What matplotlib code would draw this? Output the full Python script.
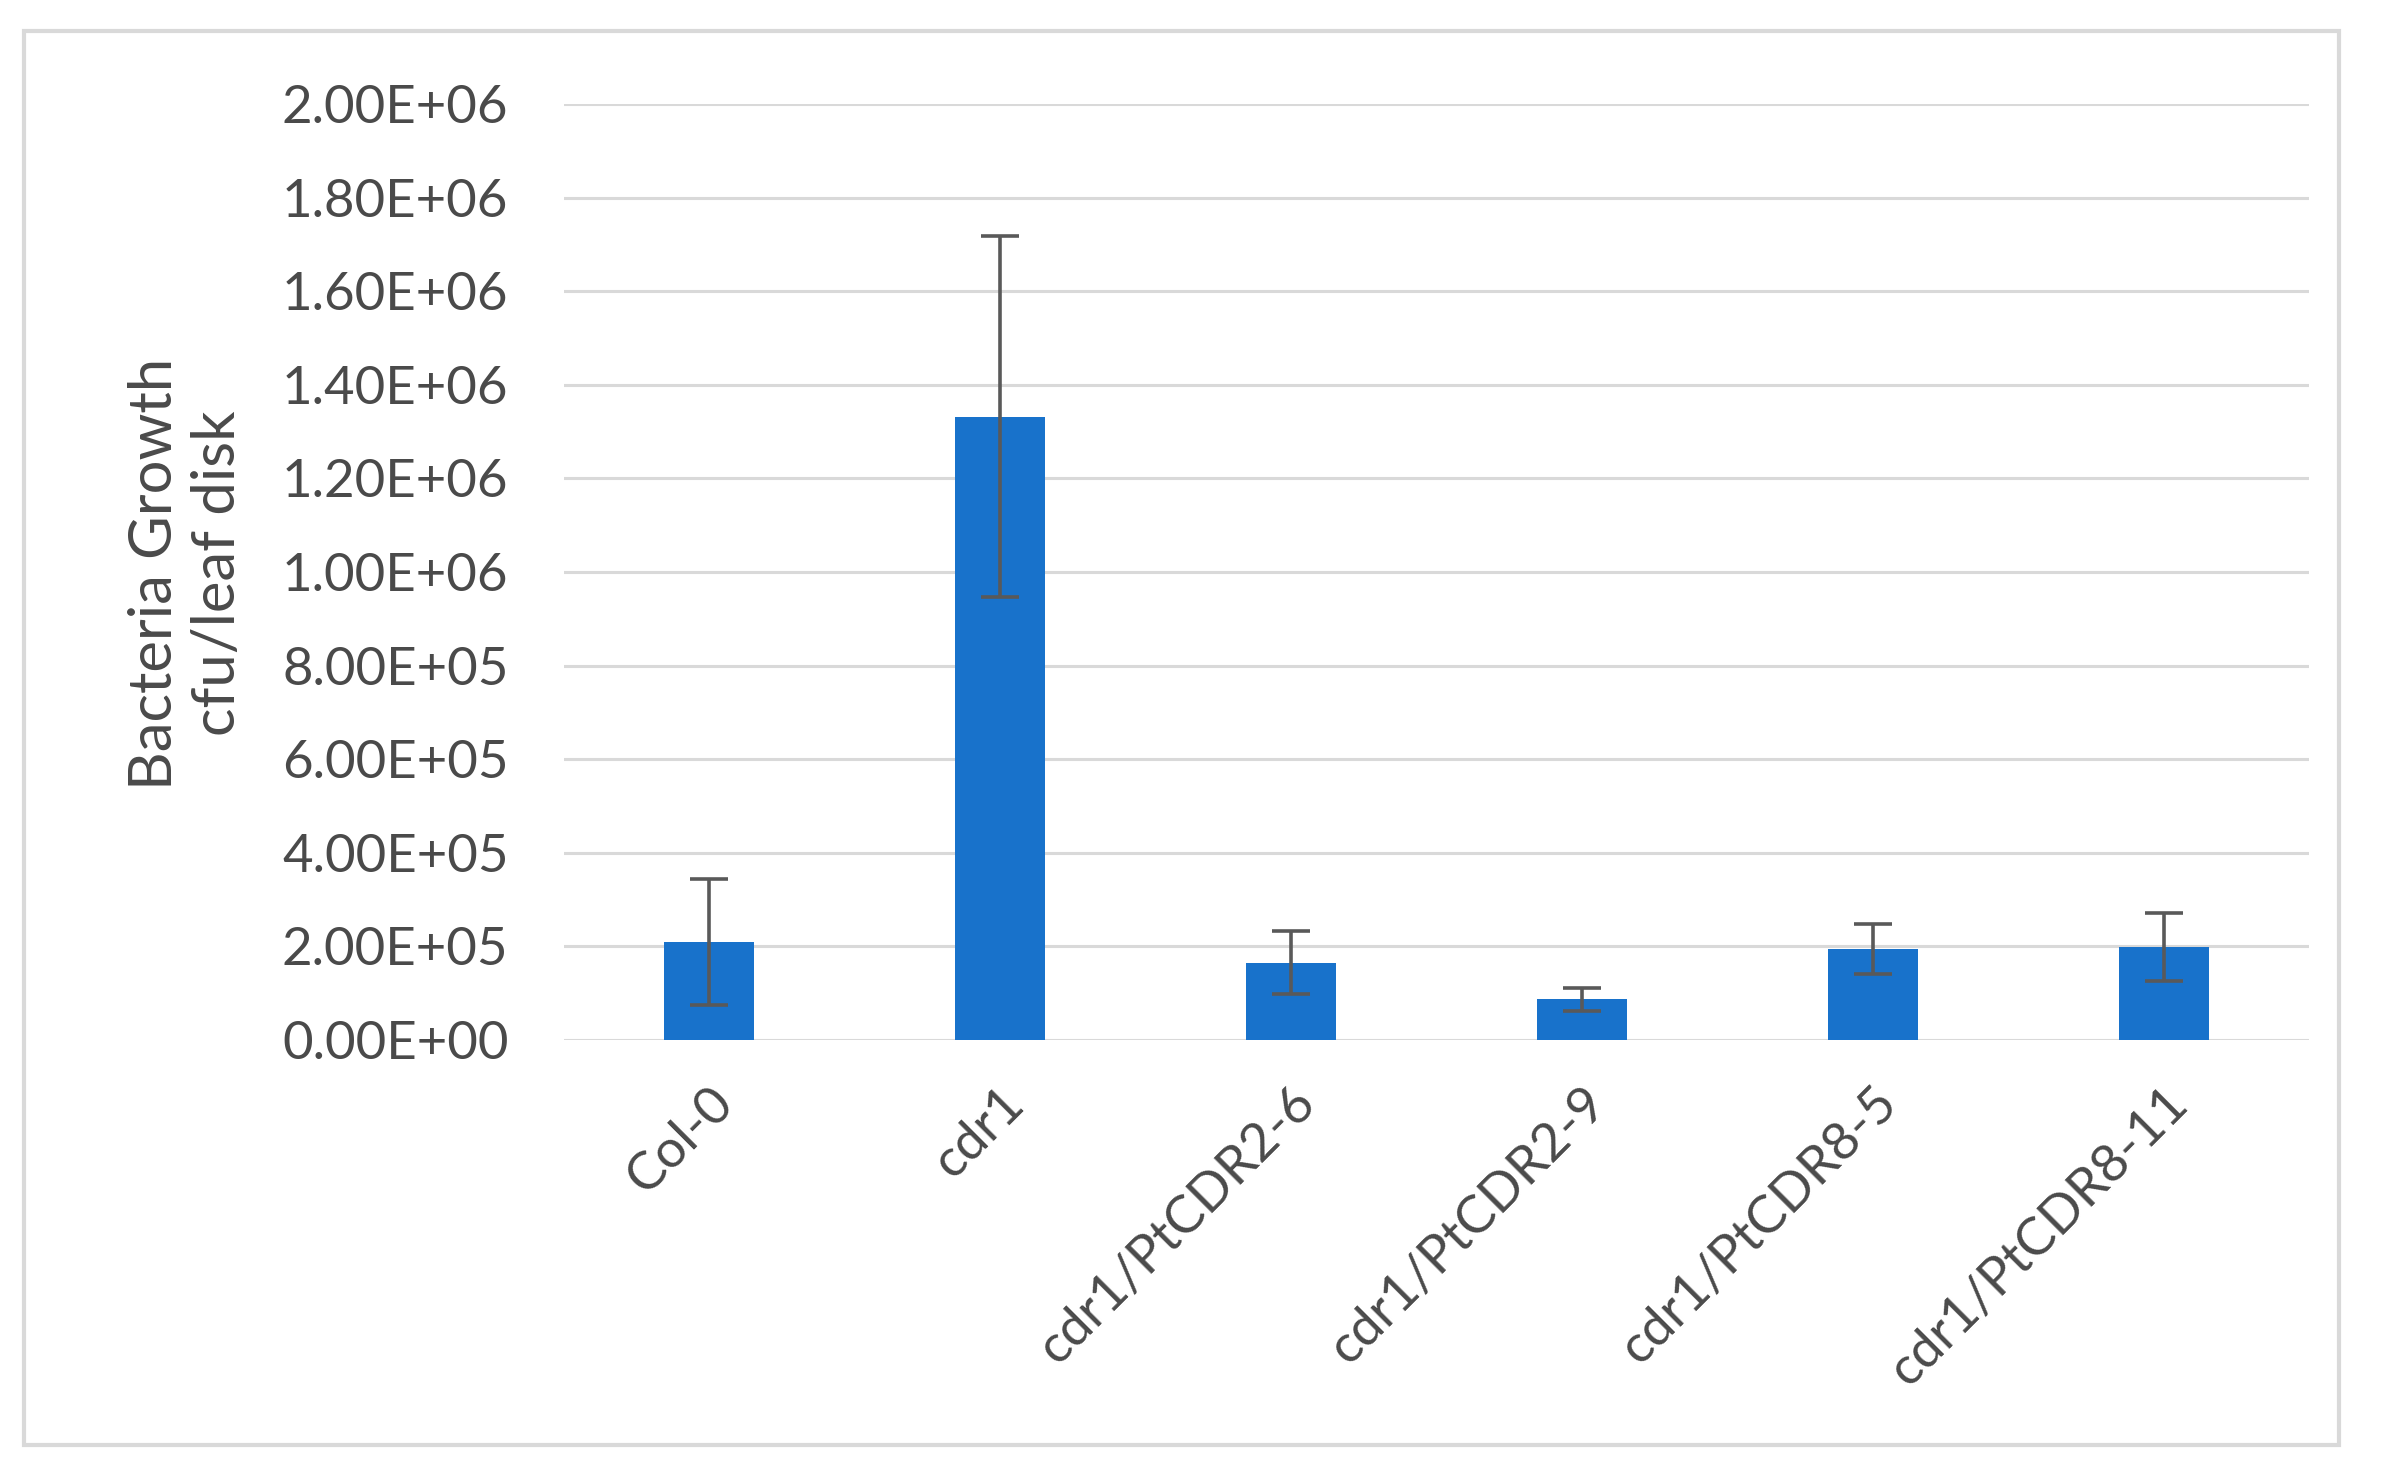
import matplotlib
matplotlib.use("Agg")
import matplotlib.pyplot as plt
from matplotlib.patches import Rectangle
from matplotlib.ticker import FuncFormatter

# valeurs
lignes = ['Col-0', 'cdr1', 'cdr1/PtCDR2-6', 'cdr1/PtCDR2-9', 'cdr1/PtCDR8-5', 'cdr1/PtCDR8-11']
croissance = [2.10e5, 1.332e6, 1.65e5, 8.7e4, 1.94e5, 1.99e5]
erreur = [1.35e5, 3.85e5, 6.7e4, 2.5e4, 5.3e4, 7.2e4]
yticks = [0, 2e5, 4e5, 6e5, 8e5, 1e6, 1.2e6, 1.4e6, 1.6e6, 1.8e6, 2e6]

gris = '#4a4a4a'
bleu = '#1872CB'
plt.rcParams['font.family'] = ['Lato', 'DejaVu Sans']

fig = plt.figure(figsize=(24.02, 14.71), dpi=100)
ax = fig.add_axes([0.2348, 0.293, 0.7265, 0.6363])

x = range(len(lignes))
ax.bar(x, croissance, width=0.31, color=bleu, zorder=3)
ax.errorbar(x, croissance, yerr=erreur, fmt='none', ecolor='#595959',
            elinewidth=2.6, capsize=14, capthick=2.6, zorder=4)

ax.set_xlim(-0.5, len(lignes) - 0.5)
ax.set_ylim(0, 2e6)
ax.set_yticks(yticks)
ax.yaxis.set_major_formatter(FuncFormatter(lambda v, p: ('%.2E' % v)))
ax.grid(axis='y', color='#d9d9d9', linewidth=2.2, zorder=0)
for s in ax.spines.values():
    s.set_visible(False)
ax.tick_params(axis='both', length=0, colors=gris, labelsize=38)
ax.tick_params(axis='y', pad=40)
ax.set_xticks(list(x))
ax.set_xticklabels(lignes, rotation=45, ha='right', va='top', rotation_mode='anchor')
ax.tick_params(axis='x', pad=28)

fig.text(0.0775, 0.61, 'Bacteria Growth\ncfu/leaf disk', rotation=90, ha='center', va='center',
         fontsize=43, color=gris, linespacing=1.2)

# cadre autour du graphique
fig.patches.append(Rectangle((24/2402, 26/1471), 2315/2402, 1414/1471, transform=fig.transFigure,
                             fill=False, edgecolor='#d9d9d9', linewidth=3))

plt.savefig('out.png', dpi=100, facecolor='white')
